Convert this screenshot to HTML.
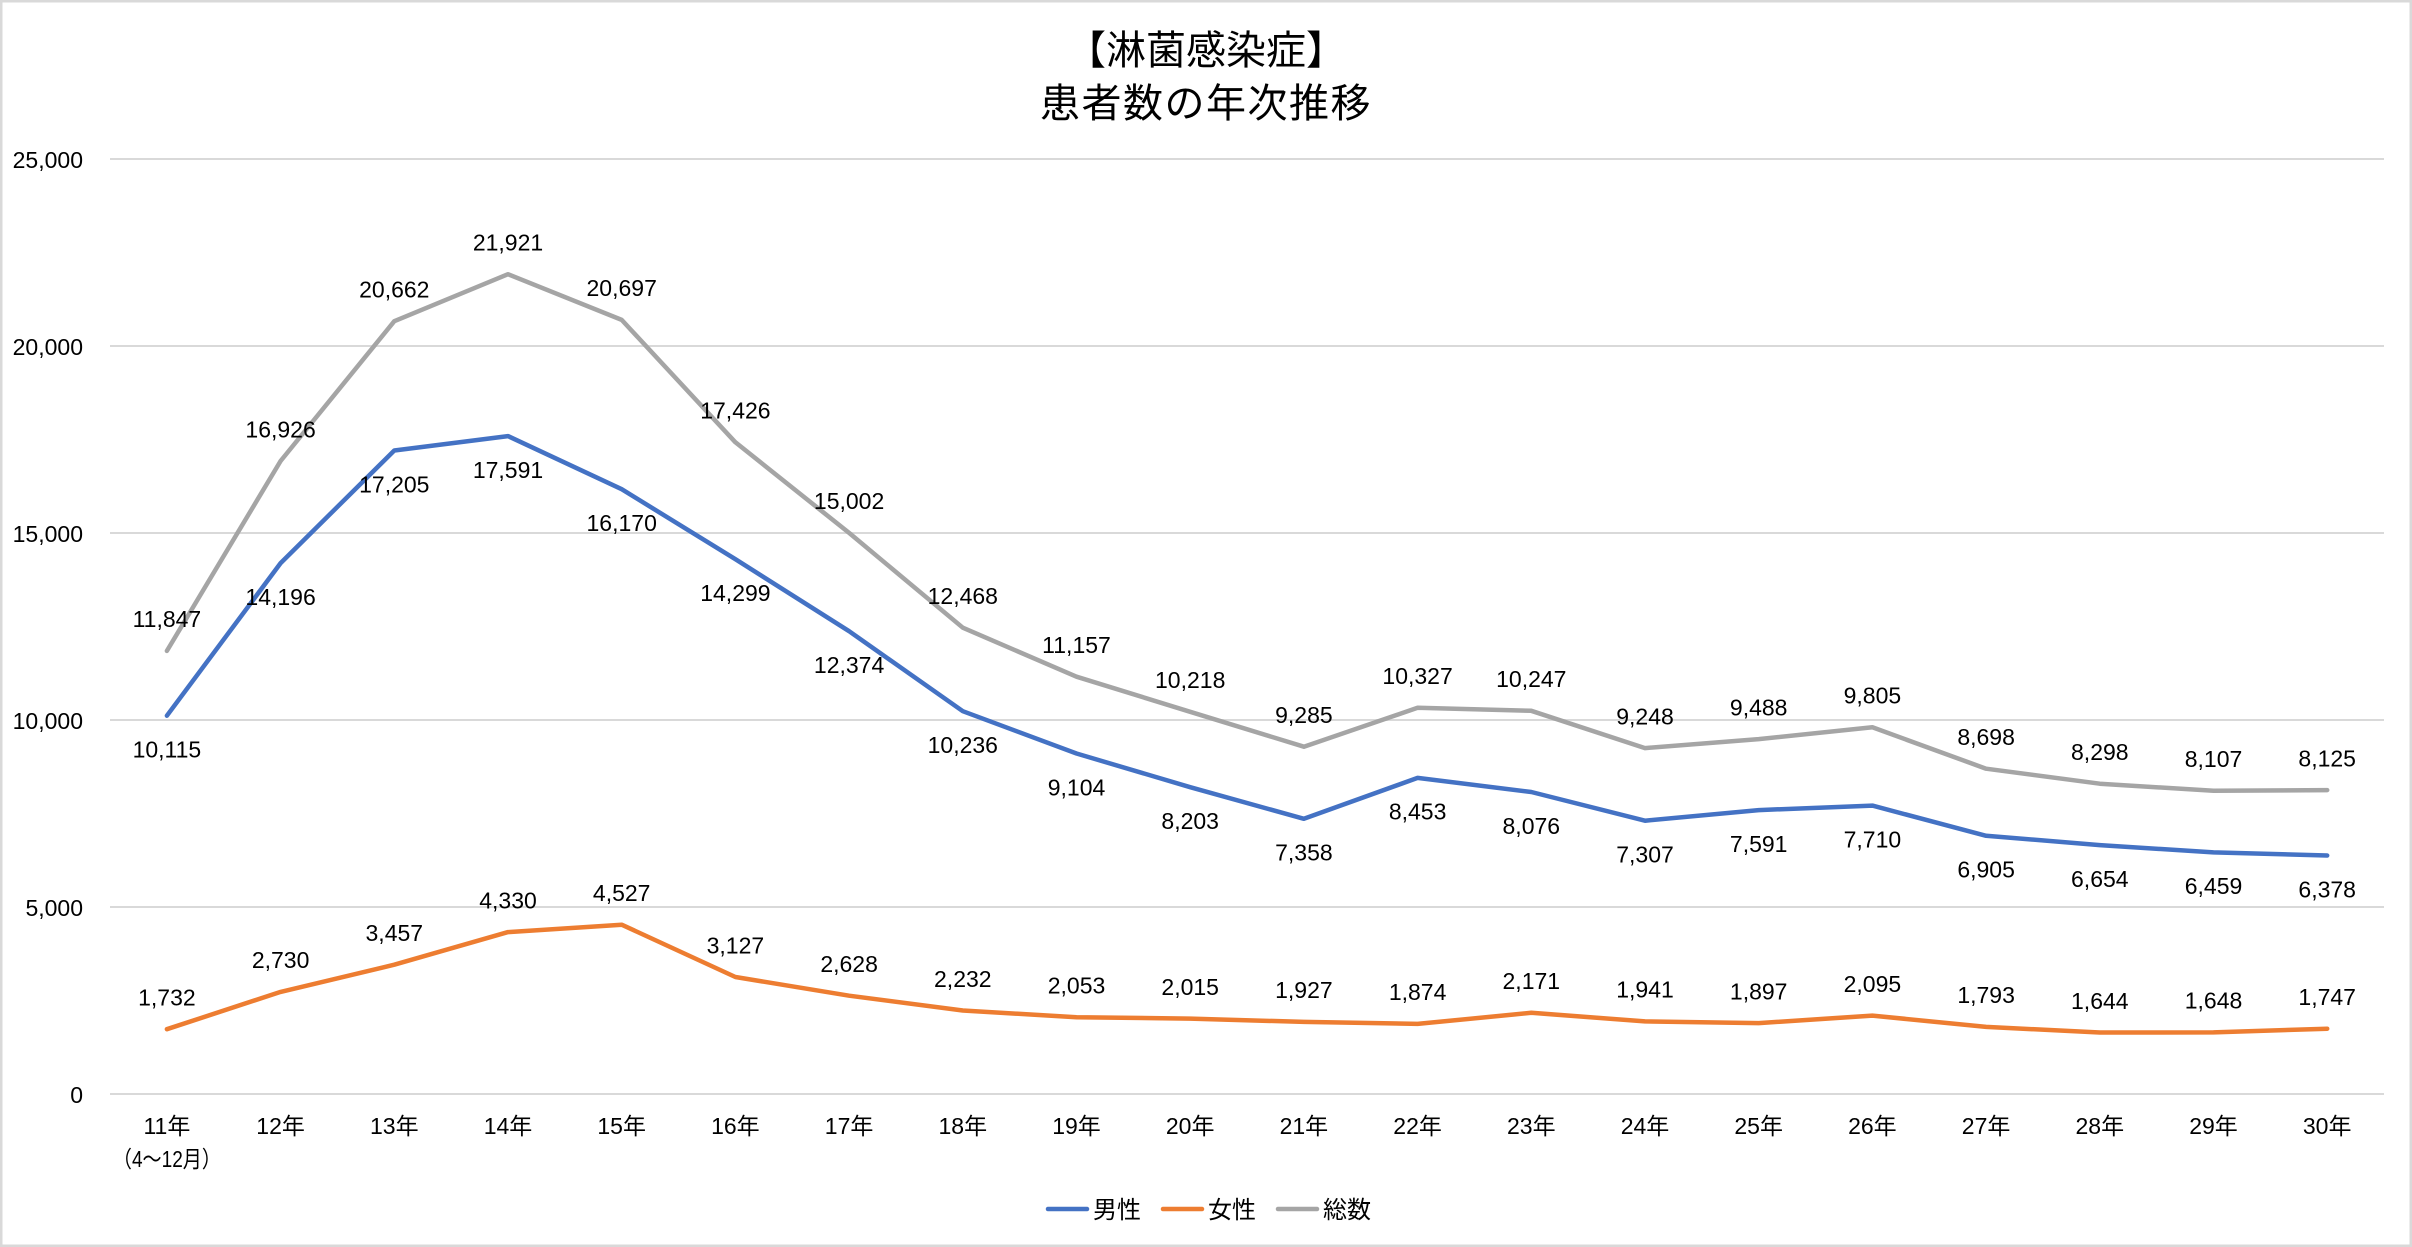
<!DOCTYPE html>
<html><head><meta charset="utf-8"><style>
html,body{margin:0;padding:0;background:#fff;}
svg{display:block;}
text{font-family:"Liberation Sans","Noto Sans CJK JP",sans-serif;fill:#000;}
</style></head><body>
<svg width="2412" height="1247" viewBox="0 0 2412 1247" xmlns="http://www.w3.org/2000/svg">
<rect x="0" y="0" width="2412" height="1247" fill="#fff"/>
<rect x="1.25" y="1.25" width="2409.5" height="1244.5" fill="none" stroke="#d9d9d9" stroke-width="2.5"/>
<!-- title -->
<text x="1206" y="64" font-size="40" text-anchor="middle">【淋菌感染症】</text>
<text x="1206" y="117" font-size="40" text-anchor="middle" letter-spacing="1.5">患者数の年次推移</text>
<!-- gridlines -->
<g stroke="#d9d9d9" stroke-width="2">
<line x1="110" y1="159" x2="2384" y2="159"/>
<line x1="110" y1="346" x2="2384" y2="346"/>
<line x1="110" y1="533" x2="2384" y2="533"/>
<line x1="110" y1="720" x2="2384" y2="720"/>
<line x1="110" y1="907" x2="2384" y2="907"/>
<line x1="110" y1="1094" x2="2384" y2="1094"/>
</g>
<!-- y ticks -->
<g font-size="23" text-anchor="end">
<text x="83" y="168">25,000</text>
<text x="83" y="355">20,000</text>
<text x="83" y="542">15,000</text>
<text x="83" y="729">10,000</text>
<text x="83" y="916">5,000</text>
<text x="83" y="1103">0</text>
</g>
<!-- x labels -->
<g font-size="23" text-anchor="middle">
<text x="166.9" y="1134">11年</text>
<text x="166.9" y="1167" textLength="108" lengthAdjust="spacingAndGlyphs">（4～12月）</text>
<text x="280.6" y="1134">12年</text>
<text x="394.3" y="1134">13年</text>
<text x="508.0" y="1134">14年</text>
<text x="621.7" y="1134">15年</text>
<text x="735.4" y="1134">16年</text>
<text x="849.1" y="1134">17年</text>
<text x="962.8" y="1134">18年</text>
<text x="1076.5" y="1134">19年</text>
<text x="1190.2" y="1134">20年</text>
<text x="1303.9" y="1134">21年</text>
<text x="1417.6" y="1134">22年</text>
<text x="1531.3" y="1134">23年</text>
<text x="1645.0" y="1134">24年</text>
<text x="1758.7" y="1134">25年</text>
<text x="1872.4" y="1134">26年</text>
<text x="1986.1" y="1134">27年</text>
<text x="2099.8" y="1134">28年</text>
<text x="2213.5" y="1134">29年</text>
<text x="2327.2" y="1134">30年</text>
</g>
<!-- series -->
<g fill="none" stroke-width="4.5" stroke-linejoin="round" stroke-linecap="round">
<polyline stroke="#4472C4" points="166.9,715.7 280.6,563.1 394.3,450.5 508.0,436.1 621.7,489.2 735.4,559.2 849.1,631.2 962.8,711.2 1076.5,753.5 1190.2,787.2 1303.9,818.8 1417.6,777.9 1531.3,792.0 1645.0,820.7 1758.7,810.1 1872.4,805.6 1986.1,835.8 2099.8,845.1 2213.5,852.4 2327.2,855.5"/>
<polyline stroke="#ED7D31" points="166.9,1029.2 280.6,991.9 394.3,964.7 508.0,932.1 621.7,924.7 735.4,977.0 849.1,995.7 962.8,1010.5 1076.5,1017.2 1190.2,1018.6 1303.9,1021.9 1417.6,1023.9 1531.3,1012.8 1645.0,1021.4 1758.7,1023.1 1872.4,1015.6 1986.1,1026.9 2099.8,1032.5 2213.5,1032.4 2327.2,1028.7"/>
<polyline stroke="#A5A5A5" points="166.9,650.9 280.6,461.0 394.3,321.2 508.0,274.2 621.7,319.9 735.4,442.3 849.1,532.9 962.8,627.7 1076.5,676.7 1190.2,711.8 1303.9,746.7 1417.6,707.8 1531.3,710.8 1645.0,748.1 1758.7,739.1 1872.4,727.3 1986.1,768.7 2099.8,783.7 2213.5,790.8 2327.2,790.1"/>
</g>
<!-- data labels: male (below) -->
<g font-size="23" text-anchor="middle">
<text x="166.9" y="757.5">10,115</text>
<text x="280.6" y="604.9">14,196</text>
<text x="394.3" y="492.3">17,205</text>
<text x="508.0" y="477.9">17,591</text>
<text x="621.7" y="531.0">16,170</text>
<text x="735.4" y="601.0">14,299</text>
<text x="849.1" y="673.0">12,374</text>
<text x="962.8" y="753.0">10,236</text>
<text x="1076.5" y="795.3">9,104</text>
<text x="1190.2" y="829.0">8,203</text>
<text x="1303.9" y="860.6">7,358</text>
<text x="1417.6" y="819.7">8,453</text>
<text x="1531.3" y="833.8">8,076</text>
<text x="1645.0" y="862.5">7,307</text>
<text x="1758.7" y="851.9">7,591</text>
<text x="1872.4" y="847.4">7,710</text>
<text x="1986.1" y="877.6">6,905</text>
<text x="2099.8" y="886.9">6,654</text>
<text x="2213.5" y="894.2">6,459</text>
<text x="2327.2" y="897.3">6,378</text>
</g>
<!-- female (above) -->
<g font-size="23" text-anchor="middle">
<text x="166.9" y="1005.5">1,732</text>
<text x="280.6" y="968.2">2,730</text>
<text x="394.3" y="941.0">3,457</text>
<text x="508.0" y="908.4">4,330</text>
<text x="621.7" y="901.0">4,527</text>
<text x="735.4" y="953.3">3,127</text>
<text x="849.1" y="972.0">2,628</text>
<text x="962.8" y="986.8">2,232</text>
<text x="1076.5" y="993.5">2,053</text>
<text x="1190.2" y="994.9">2,015</text>
<text x="1303.9" y="998.2">1,927</text>
<text x="1417.6" y="1000.2">1,874</text>
<text x="1531.3" y="989.1">2,171</text>
<text x="1645.0" y="997.7">1,941</text>
<text x="1758.7" y="999.4">1,897</text>
<text x="1872.4" y="991.9">2,095</text>
<text x="1986.1" y="1003.2">1,793</text>
<text x="2099.8" y="1008.8">1,644</text>
<text x="2213.5" y="1008.7">1,648</text>
<text x="2327.2" y="1005.0">1,747</text>
</g>
<!-- total (above) -->
<g font-size="23" text-anchor="middle">
<text x="166.9" y="627.2">11,847</text>
<text x="280.6" y="437.3">16,926</text>
<text x="394.3" y="297.5">20,662</text>
<text x="508.0" y="250.5">21,921</text>
<text x="621.7" y="296.2">20,697</text>
<text x="735.4" y="418.6">17,426</text>
<text x="849.1" y="509.2">15,002</text>
<text x="962.8" y="604.0">12,468</text>
<text x="1076.5" y="653.0">11,157</text>
<text x="1190.2" y="688.1">10,218</text>
<text x="1303.9" y="723.0">9,285</text>
<text x="1417.6" y="684.1">10,327</text>
<text x="1531.3" y="687.1">10,247</text>
<text x="1645.0" y="724.4">9,248</text>
<text x="1758.7" y="715.4">9,488</text>
<text x="1872.4" y="703.6">9,805</text>
<text x="1986.1" y="745.0">8,698</text>
<text x="2099.8" y="760.0">8,298</text>
<text x="2213.5" y="767.1">8,107</text>
<text x="2327.2" y="766.4">8,125</text>
</g>
<!-- legend -->
<g stroke-width="4.5" stroke-linecap="round">
<line x1="1048" y1="1209" x2="1087" y2="1209" stroke="#4472C4"/>
<line x1="1163" y1="1209" x2="1202" y2="1209" stroke="#ED7D31"/>
<line x1="1278" y1="1209" x2="1317" y2="1209" stroke="#A5A5A5"/>
</g>
<g font-size="24">
<text x="1093" y="1218">男性</text>
<text x="1208" y="1218">女性</text>
<text x="1323" y="1218">総数</text>
</g>
</svg>
</body></html>
